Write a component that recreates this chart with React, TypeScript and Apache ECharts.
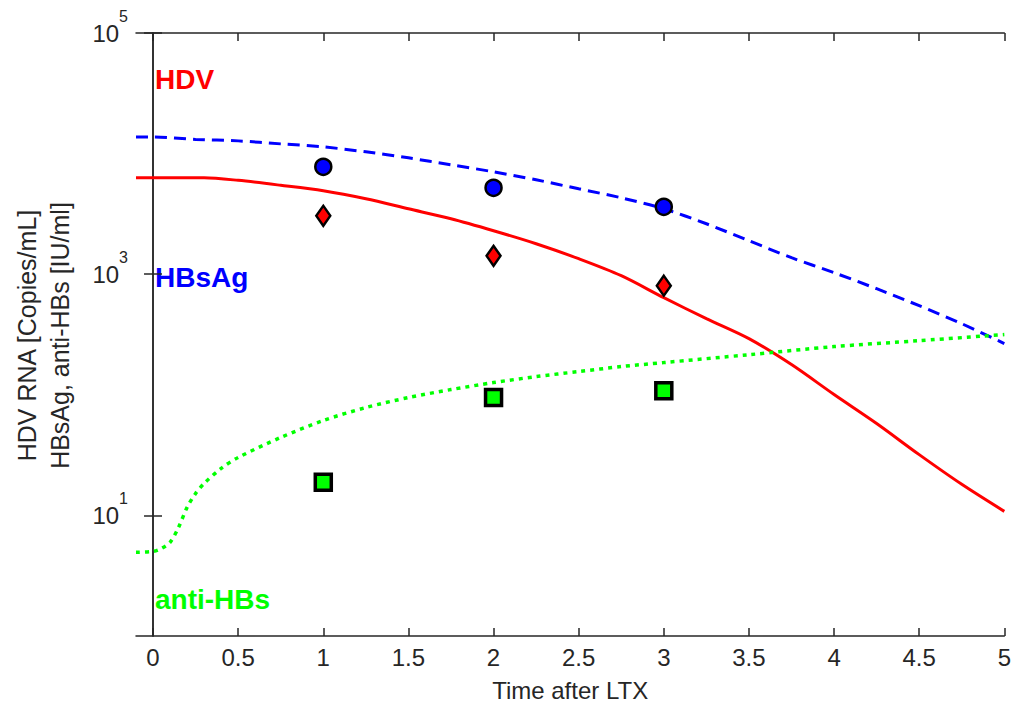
import React, { useEffect, useRef } from "react";
import * as echarts from "echarts";

// ---- data ----
const hdvT = [-0.1, 0.3, 0.5, 0.75, 1.0, 1.25, 1.5, 1.75, 2.0, 2.25, 2.5, 2.75, 3.0, 3.25, 3.5, 3.75, 4.0, 4.25, 4.5, 4.75, 5.0];
const hdvV = [6300, 6300, 6000, 5460, 4915, 4220, 3486, 2881, 2292, 1789, 1344, 972, 639, 428, 292, 178, 100.5, 57.8, 31.9, 18.1, 10.8];

const hbsagT = [-0.1, 0.0, 0.25, 0.5, 0.75, 1.0, 1.25, 1.5, 1.75, 2.0, 2.25, 2.5, 2.75, 3.0, 3.25, 3.5, 3.75, 4.0, 4.25, 4.5, 4.75, 5.0];
const hbsagV = [13760, 13760, 13120, 12750, 12040, 11370, 10340, 9222, 8070, 7062, 6062, 5107, 4300, 3486, 2620, 1894, 1370, 1029, 758, 548, 389, 266];

const antiT = [-0.1, 0.0, 0.05, 0.1, 0.15, 0.2, 0.25, 0.3, 0.4, 0.5, 0.75, 1.0, 1.25, 1.5, 1.75, 2.0, 2.25, 2.5, 2.75, 3.0, 3.5, 4.0, 4.5, 5.0];
const antiV = [4.94, 5.03, 5.33, 5.98, 7.96, 11.65, 15.2, 18.4, 24.5, 30.2, 44.3, 61.2, 78.4, 94.9, 110.5, 126.3, 141.6, 155.8, 171.4, 185, 215, 251, 281, 316];

const obsT = [1, 2, 3];
const obsHbsag = [7770, 5200, 3620];
const obsHdv = [3050, 1420, 803];
const obsAnti = [18.8, 94.9, 108];

const xTicks = [0, 0.5, 1, 1.5, 2, 2.5, 3, 3.5, 4, 4.5, 5];
const yTicks = [10, 1000, 100000];

const FONT = "'Liberation Sans', Arial, Helvetica, sans-serif";
const AXIS_COLOR = "#262626";

function zip(a: number[], b: number[]) {
  return a.map((v, i) => [v, b[i]]);
}

export default function App() {
  const ref = useRef<HTMLDivElement>(null);
  useEffect(() => {
    if (!ref.current) return;
    const chart = echarts.init(ref.current, null, { renderer: "svg" });
    const axisLine = { show: true, lineStyle: { color: AXIS_COLOR, width: 1.5 } };
    const option: any = {
      animation: false,
      backgroundColor: "#ffffff",
      grid: { left: 136, right: 8, top: 33, bottom: 69, containLabel: false },
      xAxis: [
        {
          type: "value",
          min: -0.1,
          max: 5,
          position: "bottom",
          axisLine,
          splitLine: { show: false },
          axisTick: { show: true, inside: true, length: 8, customValues: xTicks, lineStyle: { color: AXIS_COLOR, width: 1.5 } },
          axisLabel: {
            customValues: xTicks,
            margin: 9,
            fontSize: 24,
            fontFamily: FONT,
            color: AXIS_COLOR,
            formatter: (v: number) => String(v),
          },
          name: "Time after LTX",
          nameLocation: "middle",
          nameGap: 42,
          nameTextStyle: { fontSize: 24, fontFamily: FONT, color: AXIS_COLOR },
        },
        {
          type: "value",
          min: -0.1,
          max: 5,
          position: "top",
          axisLine,
          splitLine: { show: false },
          axisTick: { show: true, inside: true, length: 8, customValues: xTicks, lineStyle: { color: AXIS_COLOR, width: 1.5 } },
          axisLabel: { show: false },
        },
      ],
      yAxis: [
        {
          type: "log",
          logBase: 10,
          min: 1,
          max: 100000,
          position: "left",
          axisLine,
          splitLine: { show: false },
          minorTick: { show: false },
          axisTick: { show: true, inside: true, length: 9, customValues: yTicks, lineStyle: { color: AXIS_COLOR, width: 1.5 } },
          axisLabel: {
            customValues: yTicks,
            margin: 8,
            color: AXIS_COLOR,
            fontFamily: FONT,
            formatter: (v: number) => `{b|10}{s|${Math.round(Math.log10(v))}}`,
            rich: {
              b: { fontSize: 24, fontFamily: FONT, color: AXIS_COLOR, lineHeight: 50 },
              s: { fontSize: 16, fontFamily: FONT, color: AXIS_COLOR, verticalAlign: "top", lineHeight: 18 },
            },
          },
        },
        {
          type: "log",
          logBase: 10,
          min: 1,
          max: 100000,
          position: "right",
          axisLine,
          splitLine: { show: false },
          axisTick: { show: true, inside: true, length: 9, customValues: yTicks, lineStyle: { color: AXIS_COLOR, width: 1.5 } },
          axisLabel: { show: false },
        },
      ],
      graphic: [
        {
          type: "text",
          x: 43.5,
          y: 335.5,
          rotation: Math.PI / 2,
          style: {
            text: "HDV RNA [Copies/mL]\nHBsAg, anti-HBs [IU/ml]",
            fill: AXIS_COLOR,
            fontSize: 25,
            fontFamily: FONT,
            align: "center",
            verticalAlign: "middle",
            lineHeight: 33,
          },
        },
        {
          type: "text",
          x: 155,
          y: 79.5,
          style: { text: "HDV", fill: "#ff0000", fontSize: 28, fontWeight: "bold", fontFamily: FONT, align: "left", verticalAlign: "middle" },
        },
        {
          type: "text",
          x: 155,
          y: 277,
          style: { text: "HBsAg", fill: "#0000ff", fontSize: 28, fontWeight: "bold", fontFamily: FONT, align: "left", verticalAlign: "middle" },
        },
        {
          type: "text",
          x: 155,
          y: 599,
          style: { text: "anti-HBs", fill: "#00ff00", fontSize: 28, fontWeight: "bold", fontFamily: FONT, align: "left", verticalAlign: "middle" },
        },
      ],
      series: [
        {
          name: "HDV model",
          type: "line",
          data: zip(hdvT, hdvV),
          showSymbol: false,
          smooth: 0.3,
          lineStyle: { color: "#ff0000", width: 3 },
          z: 2,
        },
        {
          name: "HBsAg model",
          type: "line",
          data: zip(hbsagT, hbsagV),
          showSymbol: false,
          smooth: 0.3,
          lineStyle: { color: "#0000ff", width: 3, type: [12, 7] },
          z: 2,
        },
        {
          name: "anti-HBs model",
          type: "line",
          data: zip(antiT, antiV),
          showSymbol: false,
          smooth: 0.3,
          lineStyle: { color: "#00ff00", width: 3.5, type: [4, 5] },
          z: 2,
        },
        {
          name: "HBsAg data",
          type: "scatter",
          data: zip(obsT, obsHbsag),
          symbol: "circle",
          symbolSize: 16,
          itemStyle: { color: "#0000ff", borderColor: "#000000", borderWidth: 2.5, opacity: 1 },
          z: 5,
        },
        {
          name: "HDV data",
          type: "scatter",
          data: zip(obsT, obsHdv),
          symbol: "diamond",
          symbolSize: [14, 20],
          itemStyle: { color: "#ff0000", borderColor: "#000000", borderWidth: 2.5, opacity: 1 },
          z: 5,
        },
        {
          name: "anti-HBs data",
          type: "scatter",
          data: zip(obsT, obsAnti),
          symbol: "rect",
          symbolSize: 16,
          itemStyle: { color: "#00ff00", borderColor: "#000000", borderWidth: 3.5, opacity: 1 },
          z: 5,
        },
      ],
    };
    chart.setOption(option);
    return () => chart.dispose();
  }, []);
  return (
    <div
      ref={ref}
      style={{ position: "absolute", left: 0, top: 0, width: 1014, height: 707, background: "#fff" }}
    />
  );
}
